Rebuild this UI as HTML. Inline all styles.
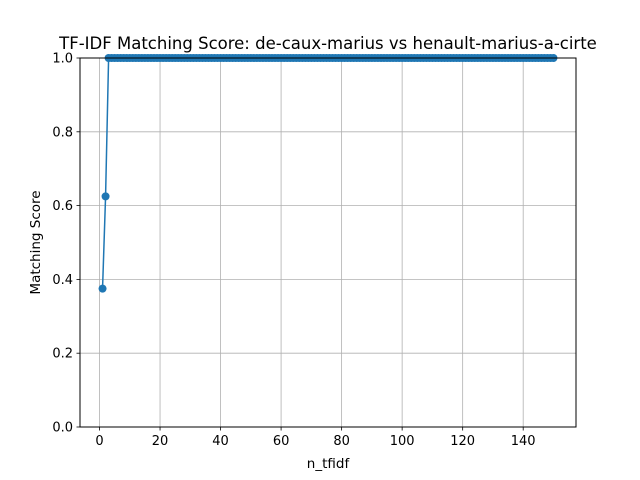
<!DOCTYPE html>
<html><head><meta charset="utf-8"><style>
body{margin:0;background:#fff;}
svg{display:block;font-family:"DejaVu Sans","Liberation Sans",sans-serif;}
</style></head><body>
<svg id="chart" width="640" height="480">
<rect x="0" y="0" width="640" height="480" fill="#fff"/>
<g id="grid"></g>
<g id="series"></g>
<rect x="80" y="58" width="496" height="369" fill="none" stroke="#000" stroke-width="1"/>
<g id="ticks"></g>
<text x="328" y="49" font-size="16.5" text-anchor="middle">TF-IDF Matching Score: de-caux-marius vs henault-marius-a-cirte</text>
<text x="328" y="468" font-size="13.5" text-anchor="middle">n_tfidf</text>
<text x="40" y="242.5" font-size="13.5" text-anchor="middle" transform="rotate(-90 40 242.5)">Matching Score</text>
</svg>
<script>
const xTicks=[0,20,40,60,80,100,120,140];
const yTicks=[0,0.2,0.4,0.6,0.8,1.0];
const yTickLabels=["0.0","0.2","0.4","0.6","0.8","1.0"];
const xValues=[];for(let i=1;i<=150;i++)xValues.push(i);
const yValues=[0.375,0.625];for(let i=3;i<=150;i++)yValues.push(1.0);
const X0=80,X1=576,Y0=427,Y1=58;
const xmin=-6.45,xmax=157.45,ymin=0,ymax=1;
const sx=v=>X0+(v-xmin)/(xmax-xmin)*(X1-X0);
const sy=v=>Y0-(v-ymin)/(ymax-ymin)*(Y0-Y1);
const NS="http://www.w3.org/2000/svg";
function mk(t,a,p){const e=document.createElementNS(NS,t);for(const k in a)e.setAttribute(k,a[k]);p.appendChild(e);return e;}
const grid=document.getElementById('grid'),ticks=document.getElementById('ticks'),ser=document.getElementById('series');
xTicks.forEach(v=>{const x=sx(v);
const g=mk('line',{x1:x,x2:x,y1:Y1,y2:Y0,stroke:'#b0b0b0','stroke-width':0.8},grid);


mk('line',{x1:x,x2:x,y1:Y0,y2:Y0+3.5,stroke:'#000','stroke-width':0.8},ticks);
const t=mk('text',{x:x,y:Y0+18,'font-size':13,'text-anchor':'middle'},ticks);t.textContent=v;

});
yTicks.forEach((v,i)=>{const y=sy(v);
const g=mk('line',{x1:X0,x2:X1,y1:y,y2:y,stroke:'#b0b0b0','stroke-width':0.8},grid);


mk('line',{x1:X0-3.5,x2:X0,y1:y,y2:y,stroke:'#000','stroke-width':0.8},ticks);
const t=mk('text',{x:X0-7,y:y+4.5,'font-size':13,'text-anchor':'end'},ticks);t.textContent=yTickLabels[i];

});
const pts=xValues.map((x,i)=>sx(x)+','+sy(yValues[i])).join(' ');
const pl=mk('polyline',{points:pts,fill:'none',stroke:'#1f77b4','stroke-width':1.5},ser);


xValues.forEach((x,i)=>{const c=mk('circle',{cx:sx(x),cy:sy(yValues[i]),r:4,fill:'#1f77b4'},ser);

});
</script>
</body></html>
